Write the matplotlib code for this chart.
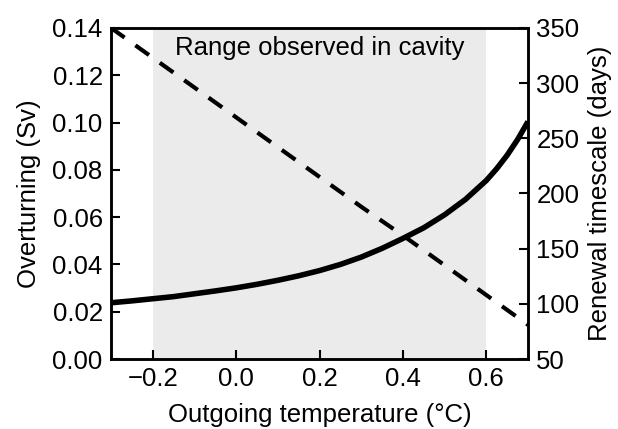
import matplotlib
matplotlib.use('Agg')
import matplotlib.pyplot as plt
import numpy as np

plt.rcParams['font.family'] = ['Liberation Sans', 'DejaVu Sans']

# outgoing temperature (degC)
temp = [-0.30, -0.25, -0.20, -0.15, -0.10, -0.05, 0.00, 0.05, 0.10, 0.15, 0.20,
        0.25, 0.30, 0.35, 0.40, 0.45, 0.50, 0.55, 0.60, 0.625, 0.65, 0.675, 0.70]
# overturning (Sv)
overturning = [0.0238, 0.0246, 0.0255, 0.0264, 0.0276, 0.0288, 0.0301, 0.0316,
               0.0333, 0.0352, 0.0374, 0.0400, 0.0431, 0.0468, 0.0510, 0.0555,
               0.0610, 0.0675, 0.0755, 0.0805, 0.0862, 0.0928, 0.1004]

# renewal timescale (days)
temp_r = [-0.3, -0.2, -0.1, 0.0, 0.1, 0.2, 0.3, 0.4, 0.5, 0.6, 0.7]
renewal = [350, 323, 296, 269, 242, 215, 188, 162, 135, 108, 81]

obs_range = [-0.2, 0.6]

fs = 18.5

fig = plt.figure(figsize=(6.18, 4.29), dpi=100)
ax = fig.add_axes([0.1796, 0.163, 0.6748, 0.772])
ax2 = ax.twinx()

ax.axvspan(obs_range[0], obs_range[1], color='#ebebeb', lw=0, zorder=0)
ax.plot(temp, overturning, color='black', lw=4.0, solid_capstyle='butt')
ax2.plot(temp_r, renewal, color='black', lw=3.0, dashes=(4.0, 3.2))

ax.text(0.5, 0.94, 'Range observed in cavity', transform=ax.transAxes,
        ha='center', va='center', fontsize=fs)

ax.set_xlim(-0.3, 0.7)
ax.set_ylim(0, 0.14)
ax2.set_ylim(50, 350)
ax.set_xticks([-0.2, 0.0, 0.2, 0.4, 0.6])
ax.set_xticklabels(['\u22120.2', '0.0', '0.2', '0.4', '0.6'])
ax.set_yticks(np.arange(0, 0.141, 0.02))
ax.set_yticklabels(['%.2f' % v for v in np.arange(0, 0.141, 0.02)])
ax2.set_yticks([50, 100, 150, 200, 250, 300, 350])

ax.set_xlabel('Outgoing temperature (\u00b0C)', fontsize=fs, labelpad=8)
ax.set_ylabel('Overturning (Sv)', fontsize=fs, labelpad=8)
ax2.set_ylabel('Renewal timescale (days)', fontsize=fs, labelpad=6)

ax.tick_params(axis='both', direction='in', length=6.5, width=1.5,
               labelsize=fs, top=False, right=False, pad=6)
ax2.tick_params(axis='y', direction='in', length=6.5, width=1.5,
                labelsize=fs, pad=6)
for a in (ax, ax2):
    for s in a.spines.values():
        s.set_linewidth(1.8)

fig.savefig('out.png', dpi=100)
